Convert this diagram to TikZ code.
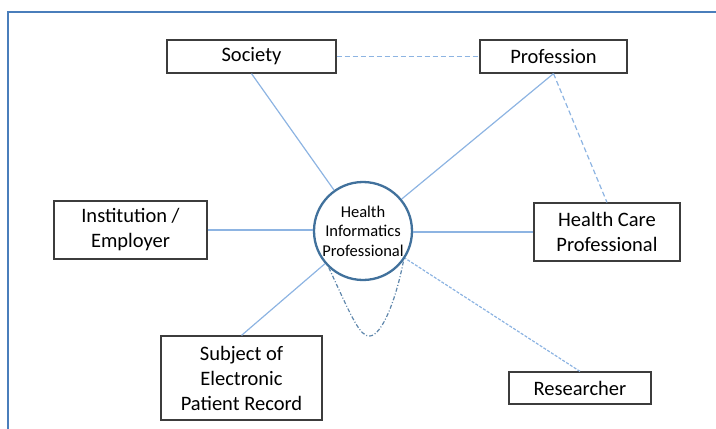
\documentclass[tikz,border=0pt]{standalone}
\usepackage{fontspec}
\setmainfont{Carlito}
\usepackage{tikz}
\usetikzlibrary{positioning}
\definecolor{framecol}{RGB}{74,126,187}
\definecolor{ringcol}{RGB}{65,113,156}
\definecolor{linkcol}{RGB}{141,180,226}
\definecolor{boxcol}{RGB}{60,60,60}

\begin{document}
\begin{tikzpicture}[x=1pt,y=-1pt,
  actor/.style={draw=boxcol,line width=1.2pt,align=center,inner sep=2pt,
                font=\fontsize{20.5}{25}\selectfont,minimum width=#1},
  actor/.default=150pt,
  hub/.style={circle,draw=ringcol,line width=2.3pt,minimum size=98pt,inner sep=0pt,
              align=center,font=\fontsize{16.5}{19.5}\selectfont},
  link/.style={linkcol,line width=1.2pt},
  loose/.style={link,dash pattern=on 5pt off 3pt},
  faint/.style={link,dash pattern=on 3pt off 1.5pt}]
  \useasboundingbox (0,0) rectangle (716,429);
  \draw[framecol,line width=2pt] (8,429) -- (8,12) -- (716,12);
  % the roles round the informatician
  \node[hub] (hip) at (363,231) {Health\\Informatics\\Professional};
  \node[actor=169pt,minimum height=33pt] (soc) at (251.5,56.5) {Society};
  \node[actor=147pt,minimum height=33pt] (prof) at (553.5,56.5) {Profession};
  \node[actor=153pt,minimum height=58pt] (inst) at (130.5,230) {Institution /\\Employer};
  \node[actor=146pt,minimum height=58pt] (hcp) at (607,232) {Health Care\\Professional};
  \node[actor=142pt,minimum height=32pt] (res) at (580,388) {Researcher};
  \node[actor=161pt,minimum height=84pt] (subj) at (241.5,378) {Subject of\\Electronic\\Patient Record};
  % relations
  \draw[link] (soc.south) -- (hip);
  \draw[link] (prof.south) -- (hip);
  \draw[link] (inst.east) -- (hip.west |- inst.east);
  \draw[link] (hip.east |- hcp.west) -- (hcp.west);
  \draw[link] (subj.north) -- (hip);
  \draw[faint] (res.north) -- (hip);
  \draw[loose] (soc.east) -- (prof.west);
  \draw[loose] (prof.south) -- (hcp.north);
  \draw[ringcol!85,line width=1.2pt,dash pattern=on 4pt off 2pt on 1pt off 2pt]
    (hip.227) .. controls (352,318) and (360,337) .. (370,336)
              .. controls (382,335) and (396,300) .. (hip.-36);
\end{tikzpicture}
\end{document}
